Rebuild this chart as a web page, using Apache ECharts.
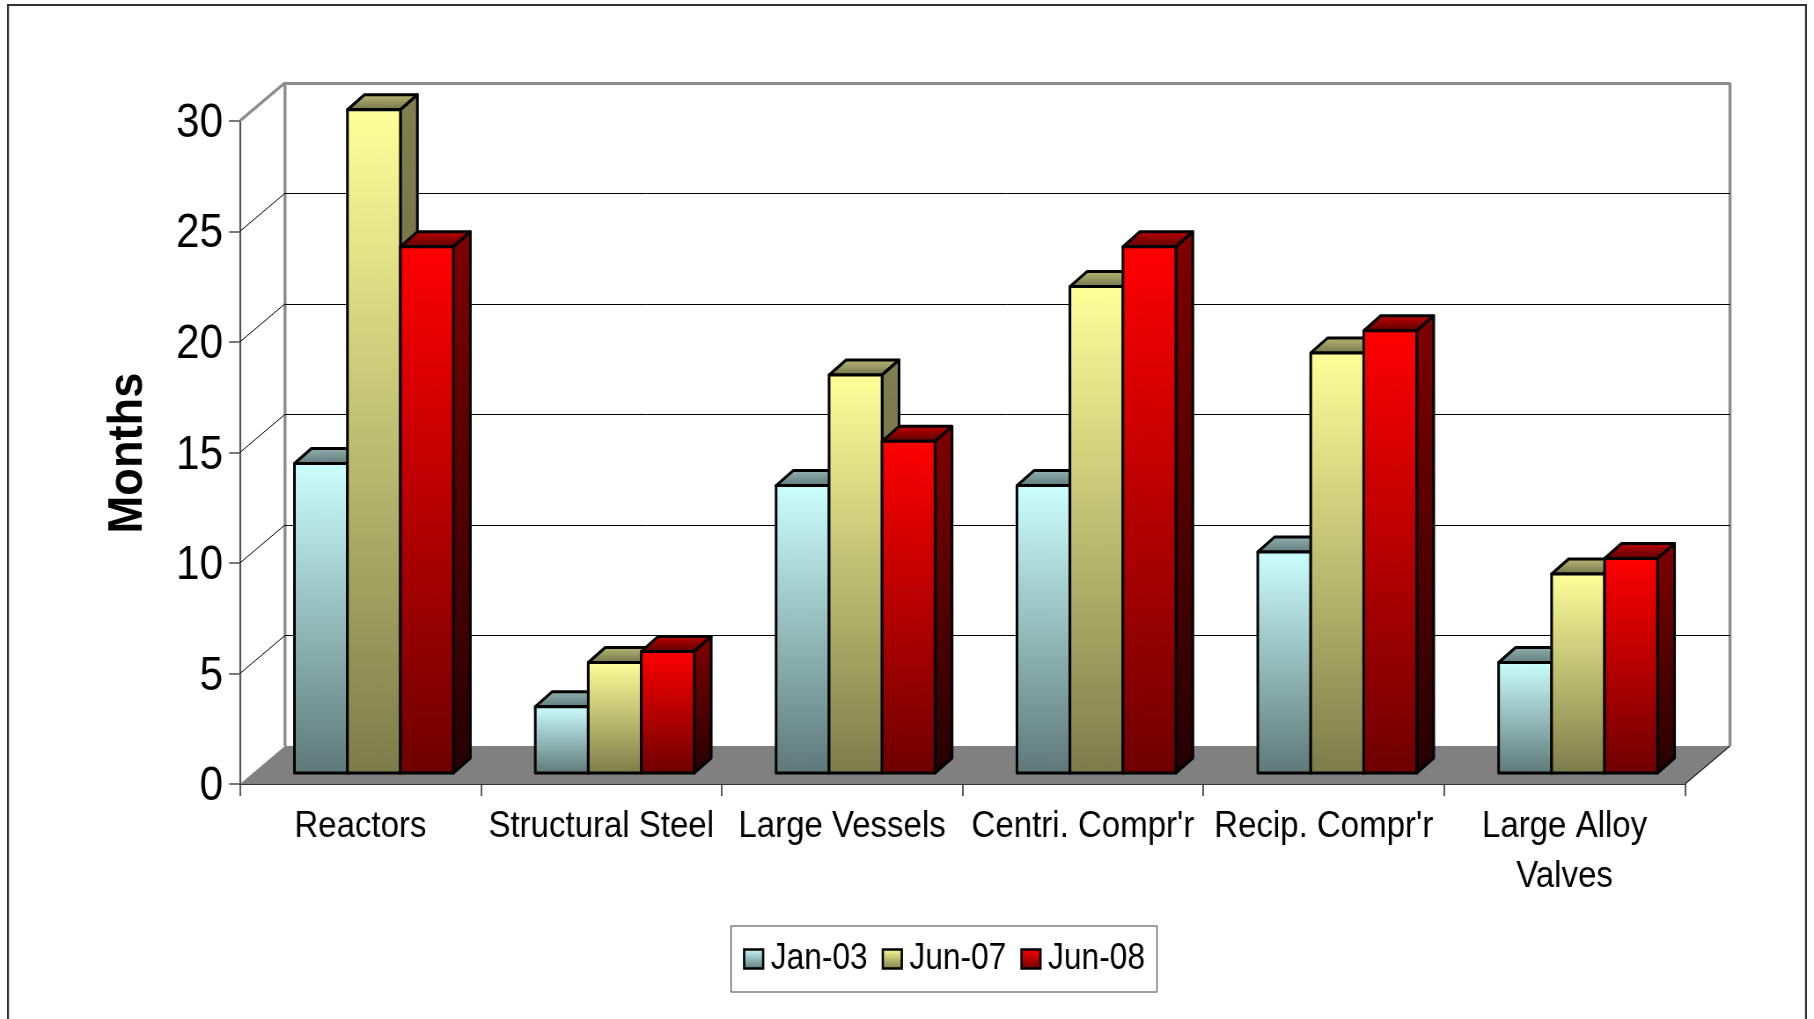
<!DOCTYPE html>
<html>
<head>
<meta charset="utf-8">
<title>Lead times</title>
<script src="https://cdn.jsdelivr.net/npm/echarts@6/dist/echarts.min.js"></script>
<style>
html,body{margin:0;padding:0;background:#fff;width:1814px;height:1019px;overflow:hidden}
/* The drawing surface is wider than the page and condensed horizontally, which narrows the type */
#chart{width:2061px;height:1019px;transform-origin:0 0;transform:scaleX(0.88014)}
</style>
</head>
<body>
<div id="chart"></div>
<script>
// Lead times by equipment type, in months
const categories = ['Reactors', 'Structural Steel', 'Large Vessels', "Centri. Compr'r", "Recip. Compr'r", 'Large Alloy\nValves'];
const jan03 = [14, 3, 13, 13, 10, 5];
const jun07 = [30, 5, 18, 22, 19, 9];
const jun08 = [23.8, 5.5, 15, 23.8, 20, 9.7];
const yTicks = [0, 5, 10, 15, 20, 25, 30];

const FONT = '"Liberation Sans", Arial, sans-serif';
const SX = 2061 / 1814;                   // page pixels to surface pixels, horizontally
const WALL_DX = 45 * SX, WALL_DY = 38;    // depth of the box behind the front plane
const BAR_DX = 17 * SX, BAR_DY = 15;      // depth of each column
const INSET_X = 13.5 * SX, INSET_Y = 11;  // column offset from the front plane
const BAR_SHARE = 0.22;                   // column width as a share of the category band

const grad = (top, bottom) => new echarts.graphic.LinearGradient(0, 0, 0, 1, [
  { offset: 0, color: top }, { offset: 1, color: bottom }
]);

const palettes = [
  { front: ['#ccffff', '#5e7878'], top: ['#94b4b4', '#5e7878'], side: ['#668080', '#2e3c3c'] },
  { front: ['#ffff99', '#7c7c4a'], top: ['#bcbc76', '#70704a'], side: ['#808050', '#5c5c38'] },
  { front: ['#ff0000', '#6e0000'], top: ['#c80000', '#520000'], side: ['#800000', '#260000'] }
];

// One 3D column: front face, top face and right-hand face
function columnRenderer(seriesIndex) {
  const pal = palettes[seriesIndex];
  return function (params, api) {
    const cat = api.value(0), val = api.value(1);
    const base = api.coord([cat, 0]);
    const top = api.coord([cat, val]);
    const w = api.size([1, 0])[0] * BAR_SHARE;
    const x0 = base[0] - 1.5 * w + seriesIndex * w + INSET_X;
    const x1 = x0 + w;
    const yB = base[1] - INSET_Y;
    const yT = top[1] - INSET_Y;
    const edge = { stroke: '#000', lineWidth: 3, lineJoin: 'round' };
    return {
      type: 'group',
      children: [
        { type: 'polygon', shape: { points: [[x0, yT], [x0 + BAR_DX, yT - BAR_DY], [x1 + BAR_DX, yT - BAR_DY], [x1, yT]] },
          style: Object.assign({ fill: grad(pal.top[0], pal.top[1]) }, edge) },
        { type: 'polygon', shape: { points: [[x1, yT], [x1 + BAR_DX, yT - BAR_DY], [x1 + BAR_DX, yB - BAR_DY], [x1, yB]] },
          style: Object.assign({ fill: grad(pal.side[0], pal.side[1]) }, edge) },
        { type: 'polygon', shape: { points: [[x0, yT], [x1, yT], [x1, yB], [x0, yB]] },
          style: Object.assign({ fill: grad(pal.front[0], pal.front[1]) }, edge) }
      ]
    };
  };
}

// Floor, side wall diagonals and back wall gridlines, one element per y tick
function wallRenderer(params, api) {
  const tick = api.value(0);
  const lastCat = categories.length - 1;
  const band = api.size([1, 0])[0];
  const left = api.coord([0, tick]);
  const xL = left[0] - band / 2;
  const xR = api.coord([lastCat, tick])[0] + band / 2;
  const y = left[1];
  const yBack = Math.round(y - WALL_DY) + 0.5;
  const children = [];
  if (tick === yTicks[0]) {
    const yTop = api.coord([0, yTicks[yTicks.length - 1]])[1];
    children.push({ type: 'polygon',
      shape: { points: [[xL, y], [xL + WALL_DX, y - WALL_DY], [xR + WALL_DX, y - WALL_DY], [xR, y]] },
      style: { fill: '#808080' } });
    children.push({ type: 'line', shape: { x1: xR, y1: y, x2: xR + WALL_DX, y2: y - WALL_DY },
      style: { stroke: '#222', lineWidth: 1.2 } });
    [xL + WALL_DX, xR + WALL_DX].forEach(function (x) {
      children.push({ type: 'line', shape: { x1: x, y1: yTop - WALL_DY, x2: x, y2: y - WALL_DY },
        style: { stroke: '#8c8c8c', lineWidth: 3.4 } });
    });
  } else {
    const isTop = tick === yTicks[yTicks.length - 1];
    const style = isTop ? { stroke: '#8c8c8c', lineWidth: 3 } : { stroke: '#000', lineWidth: 1 };
    children.push({ type: 'line', shape: { x1: xL, y1: y, x2: xL + WALL_DX, y2: y - WALL_DY }, style: style });
    children.push({ type: 'line', shape: { x1: xL + WALL_DX, y1: yBack, x2: xR + WALL_DX, y2: yBack }, style: style });
  }
  return { type: 'group', children: children };
}

const columnSeries = [['Jan-03', jan03], ['Jun-07', jun07], ['Jun-08', jun08]].map(function (entry, i) {
  return {
    name: entry[0],
    type: 'custom',
    z: 3 + i,
    clip: false,
    silent: true,
    renderItem: columnRenderer(i),
    encode: { x: 0, y: 1 },
    itemStyle: { color: grad(palettes[i].front[0], palettes[i].front[1]), borderColor: '#000', borderWidth: 2 },
    data: entry[1].map(function (v, c) { return [c, v]; })
  };
});

const chart = echarts.init(document.getElementById('chart'), null, { renderer: 'canvas', width: 2061, height: 1019 });
chart.setOption({
  animation: false,
  backgroundColor: '#ffffff',
  graphic: [{
    type: 'rect', z: 0, silent: true,
    shape: { x: 8 * SX, y: 5, width: 1798 * SX, height: 1040 },
    style: { fill: 'none', stroke: '#333', lineWidth: 2.2 }
  }, {
    // Axis title: tall bold type, turned to read upwards
    type: 'text', z: 10, silent: true,
    x: 128 * SX, y: 453, rotation: Math.PI / 2, scaleX: 0.87, scaleY: 1.07,
    style: { text: 'Months', fontFamily: FONT, fontWeight: 'bold', fontSize: 52, fill: '#000', align: 'center', verticalAlign: 'middle' }
  }],
  grid: { left: 240 * SX, top: 120.7, width: 1445 * SX, height: 663.3 },
  legend: {
    left: 731 * SX, top: 926,
    data: ['Jan-03', 'Jun-07', 'Jun-08'],
    selectedMode: false,
    orient: 'horizontal',
    icon: 'rect',
    itemWidth: 19 * SX, itemHeight: 19, itemGap: 14 * SX,
    padding: [15, 12 * SX, 15, 12 * SX],
    backgroundColor: '#fff',
    borderColor: '#444', borderWidth: 1.2, borderRadius: 0,
    itemStyle: { borderColor: '#000', borderWidth: 2.6 },
    textStyle: { fontFamily: FONT, fontSize: 36, color: '#000', padding: [0, 0, 0, 5 * SX - 2] }
  },
  xAxis: {
    type: 'category',
    data: categories,
    boundaryGap: true,
    axisLine: { show: true, lineStyle: { color: '#333', width: 2 } },
    axisTick: { show: true, alignWithLabel: false, length: 12, lineStyle: { color: '#333', width: 1.6 } },
    axisLabel: { interval: 0, margin: 18, fontFamily: FONT, fontSize: 37.5, lineHeight: 50, color: '#000' },
    splitLine: { show: false }
  },
  yAxis: {
    type: 'value',
    min: 0, max: 30, interval: 5,
    axisLine: { show: true, lineStyle: { color: '#555', width: 2.2 } },
    axisTick: { show: true, length: 11 * SX, lineStyle: { color: '#777', width: 2 } },
    // A short line box hung from the tick sets the digits a little below it
    axisLabel: { margin: 17 * SX, fontFamily: FONT, fontSize: 48, lineHeight: 6, verticalAlign: 'top', color: '#000' },
    splitLine: { show: false }
  },
  series: [{
    type: 'custom',
    name: 'walls',
    z: 1,
    clip: false,
    silent: true,
    renderItem: wallRenderer,
    encode: { y: 0 },
    data: yTicks.map(function (t) { return [t]; })
  }].concat(columnSeries)
});
</script>
</body>
</html>
